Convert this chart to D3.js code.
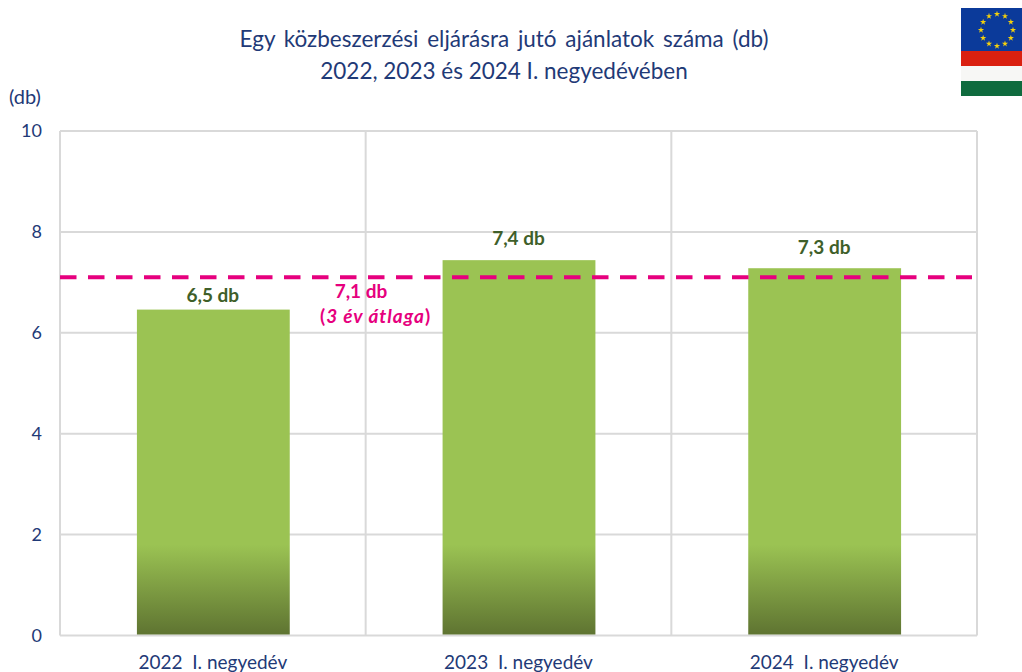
<!DOCTYPE html>
<html><head><meta charset="utf-8">
<script src="https://cdn.jsdelivr.net/npm/d3@7"></script>
<style>html,body{margin:0;padding:0;background:#fff}svg{display:block}text{font-family:Lato,"Open Sans",sans-serif}</style>
</head><body><div id="c"></div>
<script>
const categories = ["2022  I. negyedév","2023  I. negyedév","2024  I. negyedév"];
const values = [6.46,7.44,7.28];
const average = 7.1;
const yTicks = [0,2,4,6,8,10];
const titleLines = ["Egy közbeszerzési eljárásra jutó ajánlatok száma (db)","2022, 2023 és 2024 I. negyedévében"];
const avgLabel = "7,1 db";
const avgNote = ["(","3 év átlaga",")"];
const yUnit = "(db)";
const flagStripes = ["#DA2010","#F7F7F5","#0F6B3E"];
const starAngles = d3.range(0,360,30);

const W=1022,H=672;
const L=60,R=977,T=131,B=635.5;
const navy="#1F3A77",grid="#D9D9D9",green="#3F5F2A",pink="#E6007E";
const labelLift=[8,15,14];
const svg=d3.select("#c").append("svg").attr("width",W).attr("height",H);
const x=d3.scaleBand().domain(categories).range([L,R]).paddingInner(0.5).paddingOuter(0.25);
const y=d3.scaleLinear().domain([0,10]).range([B,T]);
const step=x.step();

const grad=svg.append("defs").append("linearGradient").attr("id","g").attr("gradientUnits","userSpaceOnUse")
 .attr("x1",0).attr("x2",0).attr("y1",y(1.8)).attr("y2",y(0));
grad.append("stop").attr("offset",0).attr("stop-color","#9BC353");
grad.append("stop").attr("offset",1).attr("stop-color","#5E7331");

// grid
svg.append("g").selectAll("line").data(yTicks).join("line")
 .attr("x1",L).attr("x2",R).attr("y1",d=>y(d)).attr("y2",d=>y(d)).attr("stroke",grid).attr("stroke-width",2);
svg.append("g").selectAll("line").data([0,1,2,3]).join("line")
 .attr("x1",d=>L+d*step).attr("x2",d=>L+d*step).attr("y1",T).attr("y2",B).attr("stroke",grid).attr("stroke-width",2);

// bars
svg.append("g").selectAll("rect").data(values).join("rect")
 .attr("x",(d,i)=>x(categories[i])+0.5).attr("width",x.bandwidth())
 .attr("y",d=>y(d)).attr("height",d=>B-y(d)-1).attr("fill","url(#g)");

// average line
svg.append("line").attr("x1",L).attr("x2",972).attr("y1",y(average)).attr("y2",y(average))
 .attr("stroke",pink).attr("stroke-width",4).attr("stroke-dasharray","16.5 11.5");

// bar labels
const fmt=d=>d.toFixed(1).replace(".",",")+" db";
svg.append("g").selectAll("text").data(values).join("text")
 .attr("x",(d,i)=>x(categories[i])+x.bandwidth()/2).attr("y",(d,i)=>y(d)-labelLift[i])
 .attr("text-anchor","middle").attr("font-size",19).attr("font-weight",700).attr("fill",green).text(fmt);

// avg label
svg.append("text").attr("x",361).attr("y",298).attr("text-anchor","middle").attr("font-size",19).attr("font-weight",700).attr("fill",pink).text(avgLabel);
const n=svg.append("text").attr("x",375.5).attr("y",323).attr("text-anchor","middle").attr("font-size",19).attr("font-weight",700).attr("letter-spacing",1).attr("fill",pink);
avgNote.forEach((t,i)=>n.append("tspan").attr("font-style",i==1?"italic":"normal").text(t));

// y ticks
svg.append("g").selectAll("text").data(yTicks).join("text")
 .attr("x",42).attr("y",d=>y(d)+6).attr("text-anchor","end").attr("font-size",18).attr("fill",navy).text(d=>d);
svg.append("text").attr("x",9).attr("y",104).attr("font-size",20).attr("fill",navy).text(yUnit);

// x labels
svg.append("g").selectAll("text").data(categories).join("text")
 .attr("x",d=>x(d)+x.bandwidth()/2).attr("y",669).attr("text-anchor","middle").attr("font-size",19).attr("fill",navy)
 .style("white-space","pre").text(d=>d);

// title
svg.append("g").selectAll("text").data(titleLines).join("text")
 .attr("x",504).attr("y",(d,i)=>47+i*32).attr("text-anchor","middle").attr("font-size",22.5)
 .attr("word-spacing",(d,i)=>i==0?3:0).attr("fill",navy).text(d=>d);

// flag
const fx=961,fw=61,fy=8;
const f=svg.append("g");
f.append("rect").attr("x",fx).attr("y",fy).attr("width",fw).attr("height",43).attr("fill","#0B3A9A");
f.selectAll(".s").data(flagStripes).join("rect").attr("class","s")
 .attr("x",fx).attr("y",(d,i)=>51+i*15).attr("width",fw).attr("height",15).attr("fill",d=>d);
const star=d3.symbol().type(d3.symbolStar).size(12);
f.selectAll("path").data(starAngles).join("path").attr("d",star).attr("fill","#F4D00C")
 .attr("transform",d=>`translate(${997+16*Math.sin(d*Math.PI/180)},${30-16*Math.cos(d*Math.PI/180)})`);
</script></body></html>
